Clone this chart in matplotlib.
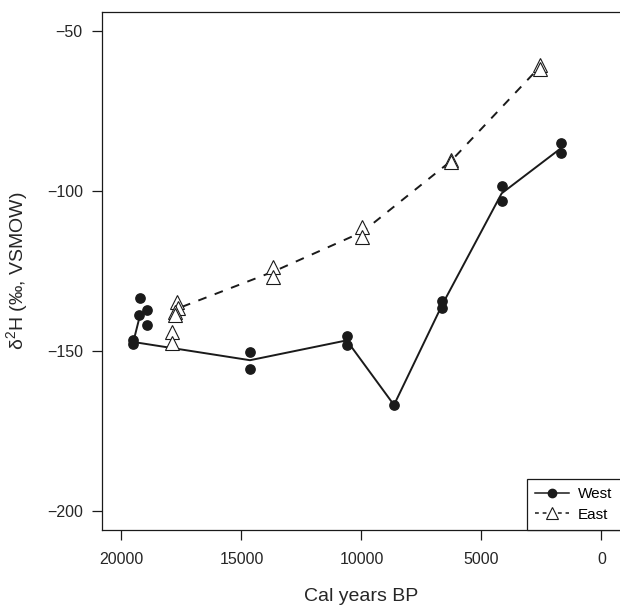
import matplotlib
matplotlib.use("Agg")
import matplotlib.pyplot as plt

plt.rcParams['font.family'] = ['Liberation Sans', 'DejaVu Sans']

# West lake: individual samples (filled circles)
west_age = [19508, 19508, 19229, 19258, 18937, 18937, 14646, 14646,
            10617, 10617, 8646, 6633, 6633, 4158, 4158, 1688, 1688]
west_d2h = [-146.6, -147.8, -133.4, -138.7, -137.2, -141.9, -150.2, -155.6,
            -145.3, -148.1, -166.9, -134.3, -136.7, -98.4, -103.0, -85.1, -88.2]
# West: line through the mean values
west_line_age = [19200, 19508, 14646, 10617, 8646, 6633, 4158, 1688]
west_line_d2h = [-138.0, -147.2, -152.9, -146.7, -166.9, -135.5, -100.7, -86.6]

# East lake: individual samples (open triangles)
east_age = [17908, 17908, 17700, 17646, 17771, 17771, 13675, 13675,
            9967, 9967, 6271, 6271, 2563, 2563]
east_d2h = [-144.0, -147.6, -134.6, -136.6, -137.7, -138.8, -123.7, -126.8,
            -111.2, -114.5, -90.3, -91.0, -60.5, -61.8]
east_line_age = [17908, 17720, 13675, 9967, 6271, 2563]
east_line_d2h = [-145.8, -136.9, -125.2, -112.8, -90.6, -61.1]

fig = plt.figure(figsize=(6.2, 6.07), dpi=100)
ax = fig.add_axes([102.3 / 620, 77 / 607, 518.4 / 620, 518 / 607])

ink = '#1a1a1a'
ax.plot(west_line_age, west_line_d2h, color=ink, lw=1.4)
ax.plot(west_age, west_d2h, 'o', color=ink, ms=6.7, ls='none')
ax.plot(east_line_age, east_line_d2h, color=ink, lw=1.4, ls=(0, (4.5, 4.5)))
ax.plot(east_age, east_d2h, '^', mfc='white', mec=ink, mew=0.8, ms=9.5, ls='none')

# legend handles
h1, = ax.plot([], [], color=ink, lw=1.1, marker='o', ms=6)
h2, = ax.plot([], [], color=ink, lw=1.1, ls=(0, (2.5, 2.5)), marker='^',
              mfc='white', mec=ink, mew=0.8, ms=8)
leg = ax.legend([h1, h2], ['West', 'East'], loc='lower right', borderaxespad=0,
                fancybox=False, framealpha=1, edgecolor=ink, fontsize=11,
                handlelength=2.2, handletextpad=0.6, borderpad=0.55,
                labelspacing=0.4)
leg.get_frame().set_linewidth(0.9)

ax.set_xlim(20800, -800)
ax.set_ylim(-206, -44)
ax.set_xticks([20000, 15000, 10000, 5000, 0])
ax.set_yticks([-200, -150, -100, -50])
ax.set_yticklabels(['\u2212200', '\u2212150', '\u2212100', '\u221250'])
ax.tick_params(length=7, width=0.9, color=ink, labelsize=11.5, labelcolor='#262626')
ax.tick_params(axis='x', pad=9)
ax.tick_params(axis='y', pad=7)
for s in ax.spines.values():
    s.set_linewidth(0.9)
    s.set_color(ink)

ax.set_xlabel('Cal years BP', fontsize=14, color='#262626', labelpad=15)
ax.set_ylabel('$\\mathregular{\\delta^2}$H (\u2030, VSMOW)', fontsize=14,
              color='#262626', labelpad=12)

fig.savefig('out.png', dpi=100)
